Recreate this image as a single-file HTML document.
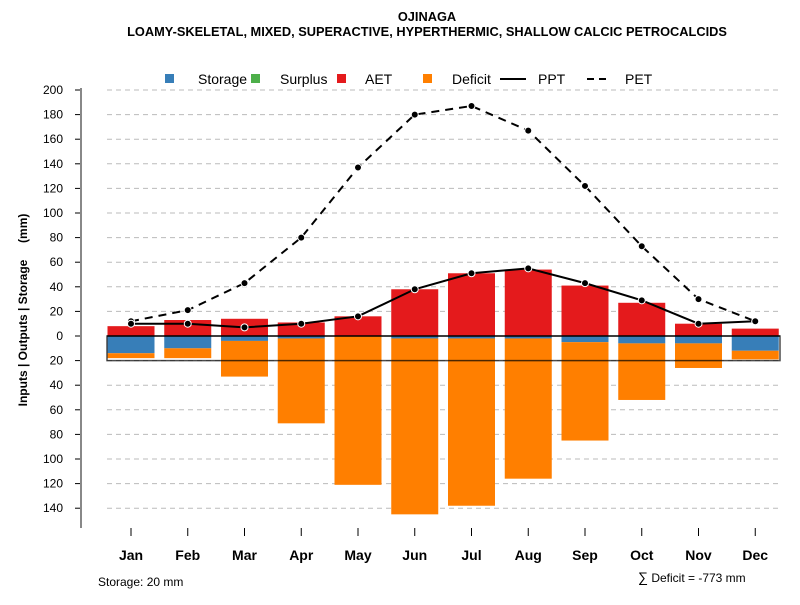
<!DOCTYPE html>
<html><head><meta charset="utf-8"><style>
body{margin:0;background:#fff;font-family:"Liberation Sans",sans-serif}
svg text{font-family:"Liberation Sans",sans-serif}
</style></head><body>
<svg id="c" width="800" height="600" xmlns="http://www.w3.org/2000/svg">
<text x="427" y="21" text-anchor="middle" font-size="12.8" font-weight="bold">OJINAGA</text>
<text x="427" y="36" text-anchor="middle" font-size="12.8" font-weight="bold">LOAMY-SKELETAL, MIXED, SUPERACTIVE, HYPERTHERMIC, SHALLOW CALCIC PETROCALCIDS</text>
<g font-size="14">
<rect x="165" y="74" width="9" height="9" fill="#377eb8"/>
<text x="198" y="84">Storage</text>
<rect x="251" y="74" width="9" height="9" fill="#4daf4a"/>
<text x="280" y="84">Surplus</text>
<rect x="337" y="74" width="9" height="9" fill="#e41a1c"/>
<text x="365" y="84">AET</text>
<rect x="423" y="74" width="9" height="9" fill="#ff7f00"/>
<text x="452" y="84">Deficit</text>
<line x1="500" y1="79" x2="526" y2="79" stroke="#000" stroke-width="2"/>
<text x="538" y="84">PPT</text>
<line x1="587" y1="79" x2="609" y2="79" stroke="#000" stroke-width="2" stroke-dasharray="7,5"/>
<text x="625" y="84">PET</text>
</g>
<text transform="translate(27,310) rotate(-90)" text-anchor="middle" font-size="12" font-weight="bold" xml:space="preserve">Inputs | Outputs | Storage     (mm)</text>
<text x="98" y="586" font-size="12">Storage: 20 mm</text>
<text x="638" y="582" font-size="12"><tspan font-size="14">∑</tspan> Deficit = -773 mm</text>
<g id="plot"></g>
</svg>
<script>
const months=["Jan","Feb","Mar","Apr","May","Jun","Jul","Aug","Sep","Oct","Nov","Dec"];
const aet=[8,13,14,11,16,38,51,54,41,27,10,6];
const storage=[14,10,4,2,0,2,2,2,5,6,6,12];
const deficit=[4,8,29,69,121,143,136,114,80,46,20,7];
const ppt=[10,10,7,10,16,38,51,55,43,29,10,12];
const pet=[12,21,43,80,137,180,187,167,122,73,30,12];
const yTicks=[200,180,160,140,120,100,80,60,40,20,0,20,40,60,80,100,120,140];
const yTickVals=[200,180,160,140,120,100,80,60,40,20,0,-20,-40,-60,-80,-100,-120,-140];
const storageCap=20;
const NS="http://www.w3.org/2000/svg";
const g=document.getElementById('plot');
const y=v=>336-v*1.23;
const x=i=>131+i*56.75;
const bw=47;
function mk(t,a,name){const e=document.createElementNS(NS,t);for(const k in a)e.setAttribute(k,a[k]);


g.appendChild(e);return e;}
yTickVals.forEach((v,i)=>{
 if(v!==0) mk('line',{x1:107,x2:780,y1:y(v),y2:y(v),stroke:'#bbb','stroke-dasharray':'5,4'},'grid-line');
 mk('line',{x1:75,x2:81,y1:y(v),y2:y(v),stroke:'#000'},'y-tick');
 const t=mk('text',{x:63,y:y(v)+4,'text-anchor':'end','font-size':12},'y-tick-label');t.textContent=yTicks[i];
});
mk('line',{x1:81,x2:81,y1:88,y2:528,stroke:'#888','stroke-width':2},'y-axis-line');
months.forEach((m,i)=>{
 const cx=x(i);
 mk('rect',{x:cx-bw/2,y:y(aet[i]),width:bw,height:y(0)-y(aet[i]),fill:'#e41a1c'},'bar-aet-'+m.toLowerCase());
 mk('rect',{x:cx-bw/2,y:y(0),width:bw,height:y(-storage[i])-y(0),fill:'#377eb8'},'bar-storage-'+m.toLowerCase());
 mk('rect',{x:cx-bw/2,y:y(-storage[i]),width:bw,height:y(-storage[i]-deficit[i])-y(-storage[i]),fill:'#ff7f00'},'bar-deficit-'+m.toLowerCase());
 mk('line',{x1:cx,x2:cx,y1:528,y2:536,stroke:'#000'},'x-tick');
 const t=mk('text',{x:cx,y:560,'text-anchor':'middle','font-size':14,'font-weight':'bold'},'x-tick-label');t.textContent=m;
});
mk('rect',{x:107,y:y(0),width:673,height:y(-storageCap)-y(0),fill:'none',stroke:'#000','stroke-opacity':0.7,'stroke-width':1.5},'storage-capacity-box');
mk('line',{x1:107,x2:780,y1:y(0),y2:y(0),stroke:'#000','stroke-width':1.2},'zero-line');
const pts=a=>a.map((v,i)=>x(i)+','+y(v)).join(' ');
mk('polyline',{points:pts(pet),fill:'none',stroke:'#000','stroke-width':2,'stroke-dasharray':'8,6'},'pet-line');
mk('polyline',{points:pts(ppt),fill:'none',stroke:'#000','stroke-width':2},'ppt-line');
pet.forEach((v,i)=>mk('circle',{cx:x(i),cy:y(v),r:3.5,fill:'#000',stroke:'#fff','stroke-width':1},'pet-point'));
ppt.forEach((v,i)=>mk('circle',{cx:x(i),cy:y(v),r:3.5,fill:'#000',stroke:'#fff','stroke-width':1},'ppt-point'));
</script>
</body></html>
